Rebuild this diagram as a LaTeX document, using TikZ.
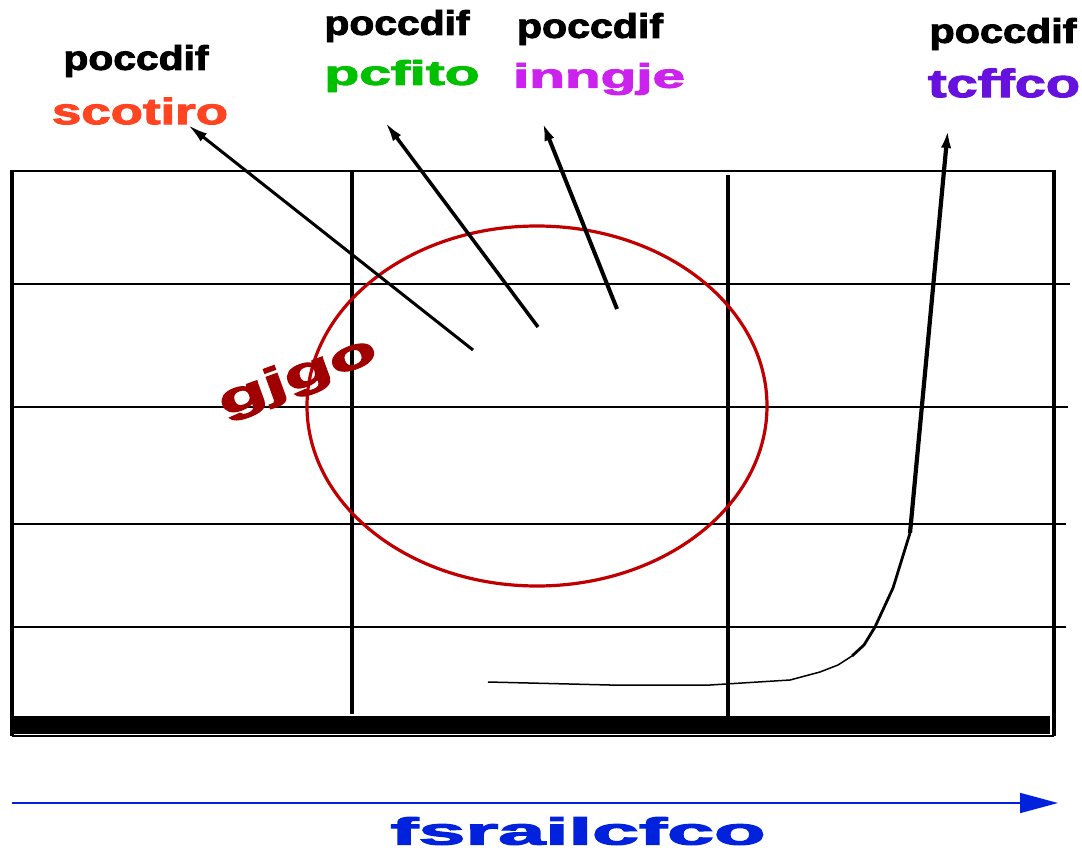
\documentclass[tikz,border=0pt]{standalone}
\usepackage{fontspec}
\setmainfont{Liberation Sans}
\newfontfamily\heavy[FakeBold=2.5]{Liberation Sans Bold}
\usepackage{graphicx}
\usetikzlibrary{arrows.meta}
\definecolor{cred}{HTML}{FF4422}
\definecolor{cgreen}{HTML}{00C000}
\definecolor{cpurple}{HTML}{CC22EE}
\definecolor{cviolet}{HTML}{6611DD}
\definecolor{cblue}{HTML}{0022DD}
\definecolor{cdark}{HTML}{A00000}
\definecolor{ccircle}{HTML}{C00000}
\newcommand{\lbl}[3]{\resizebox*{#1}{#2}{\heavy #3}}
\begin{document}
\begin{tikzpicture}[x=1pt,y=-1pt,
  lab/.style={inner sep=0pt,outer sep=0pt,anchor=center},
  thinline/.style={line width=1.2pt},
  thickv/.style={line width=4.5pt},
  ptr/.style={-{Latex[length=20pt,width=10pt]}}]
\useasboundingbox (0,0) rectangle (1082,851);
% grid
\draw[thinline] (12,171) -- (1054,171);
\draw[thinline] (12,284) -- (1070,284);
\draw[thinline] (12,407) -- (1068,407);
\draw[thinline] (12,524) -- (1066,524);
\draw[thinline] (12,627) -- (1066,627);
\draw[thickv] (12,170) -- (12,736);
\draw[thickv] (1054,170) -- (1054,736);
\draw[thickv] (352,170) -- (352,714);
\draw[thickv] (728,175) -- (728,718);
\fill (12,716) rectangle (1050,734);
\draw[line width=1.5pt] (12,736) -- (1054,736);
% circle
\draw[ccircle,line width=3.2pt] (537,406) ellipse [x radius=230, y radius=180];
% labels
\node[lab] (t1) at (136,61) {\lbl{145pt}{32pt}{poccdif}};
\node[lab] (t2) at (397,26) {\lbl{145pt}{32pt}{poccdif}};
\node[lab] (t3) at (590,29) {\lbl{146pt}{32pt}{poccdif}};
\node[lab] (t4) at (1003,34) {\lbl{147pt}{32pt}{poccdif}};
\node[lab,text=cred] (s1) at (140,111) {\lbl{176pt}{27pt}{scotiro}};
\node[lab,text=cgreen] (s2) at (402,76) {\lbl{155pt}{32pt}{pcfito}};
\node[lab,text=cpurple] (s3) at (599,79) {\lbl{172pt}{32pt}{inngje}};
\node[lab,text=cviolet] (s4) at (1004,83) {\lbl{152pt}{29pt}{tcffco}};
\node[lab,text=cblue] (ax) at (578,831) {\lbl{375pt}{28pt}{fsrailcfco}};
\node[lab,text=cdark,rotate=20] (rt) at (298,378) {\lbl{165pt}{40pt}{gjgo}};
% arrows
\coordinate (a1) at (473,350);
\coordinate (b1) at (188,125);
\coordinate (a2) at (538,327);
\coordinate (b2) at (385,122);
\coordinate (a3) at (617,309);
\coordinate (b3) at (542,121);
\draw[ptr,line width=3pt] (a1) -- (b1);
\draw[ptr,line width=3.5pt] (a2) -- (b2);
\draw[ptr,line width=4pt] (a3) -- (b3);
\coordinate (c0) at (488,682);
\coordinate (c1) at (910,533);
\coordinate (c2) at (948,128);
\draw[line width=1.5pt] (c0) -- (610,685) -- (710,685) -- (790,680) -- (820,672) -- (838,665) -- (852,656);
\draw[line width=2.8pt,line join=round] (852,656) -- (864,645) -- (875,627) -- (893,588) -- (c1);
\draw[ptr,line width=4.2pt] (c1) -- (c2);
% axis
\coordinate (x0) at (12,803);
\coordinate (x1) at (1058,803);
\draw[cblue,line width=1.6pt,-{Triangle[length=38pt,width=20pt]}] (x0) -- (x1);
\end{tikzpicture}
\end{document}
